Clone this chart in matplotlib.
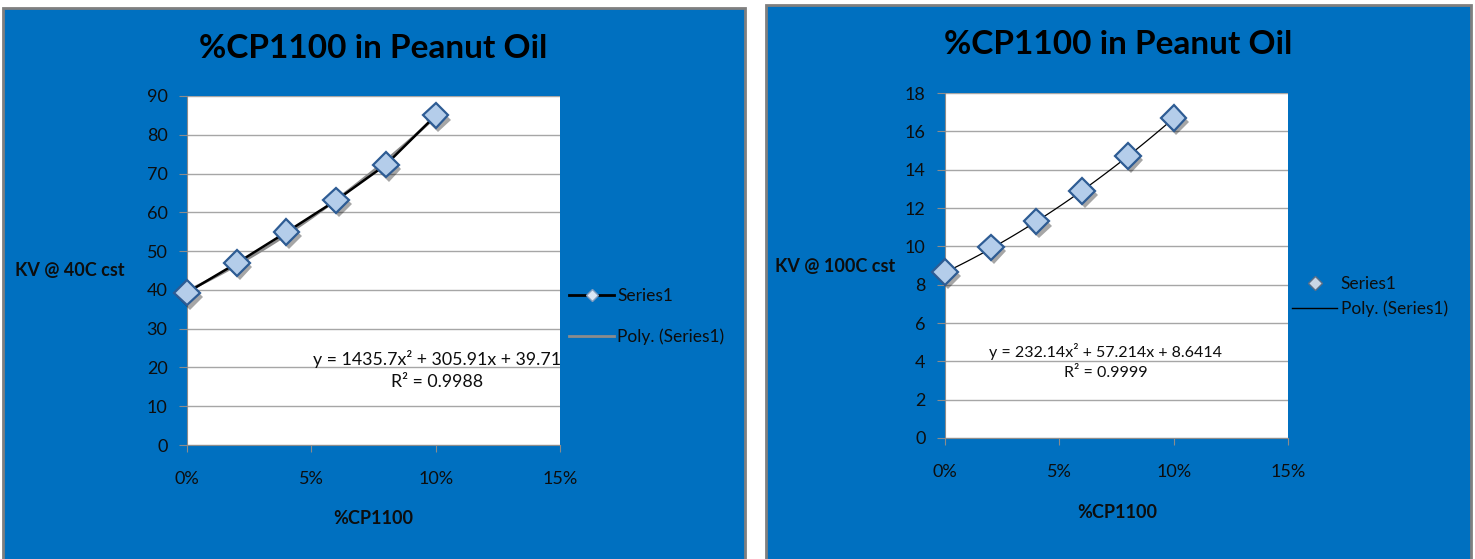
import matplotlib.pyplot as plt
import matplotlib.patheffects as pe
from matplotlib.patches import Rectangle
from matplotlib.ticker import PercentFormatter
import numpy as np

plt.rcParams['font.family'] = ['Lato', 'DejaVu Sans']

conc = [0, 0.02, 0.04, 0.06, 0.08, 0.10]
kv40 = [39.3, 46.9, 54.9, 63.1, 72.3, 85.0]
kv100 = [8.65, 9.95, 11.3, 12.9, 14.7, 16.7]

# trendline coefficients (a, b, c) for y = a*x^2 + b*x + c
poly40 = [1435.7, 305.91, 39.71]
poly100 = [232.14, 57.214, 8.6414]
r2_40 = '0.9988'
r2_100 = '0.9999'

title = '%CP1100 in Peanut Oil'
xlab = '%CP1100'
ylab40 = 'KV @ 40C cst'
ylab100 = 'KV @ 100C cst'

BLUE = '#0070c0'
TXT = '#0d0d0d'
GRID = '#a6a6a6'

fig = plt.figure(figsize=(14.75, 5.59), dpi=100)
fig.patch.set_facecolor('white')

# blue chart panels, kept behind the axes
fig.patches.append(Rectangle((3/1475, -0.01), 742/1475, 1.01 - 8/559, transform=fig.transFigure,
                             facecolor=BLUE, edgecolor='#7f7f7f', lw=2, zorder=-5))
fig.patches.append(Rectangle((766/1475, -0.01), 705/1475, 1.01 - 5/559, transform=fig.transFigure,
                             facecolor=BLUE, edgecolor='#7f7f7f', lw=2, zorder=-5))

marker_kw = dict(marker='D', markersize=13, markerfacecolor='#b4cdea',
                 markeredgecolor='#2e5c94', markeredgewidth=1.6)
shadow = [pe.SimplePatchShadow(offset=(2, -3), shadow_rgbFace='k', alpha=0.35), pe.Normal()]


def panel(rect, y, coef, ymax, ystep, with_line, trend_color, trend_lw):
    ax = fig.add_axes(rect)
    ax.set_facecolor('white')
    xs = np.linspace(0, 0.10, 100)
    ax.plot(xs, np.polyval(coef, xs), color=trend_color, lw=trend_lw, zorder=3)
    if with_line:
        ax.plot(conc, y, color='black', lw=1.8, zorder=3)
    ax.plot(conc, y, linestyle='none', zorder=4, path_effects=shadow, clip_on=False, **marker_kw)
    ax.set_xlim(0, 0.15)
    ax.set_ylim(0, ymax)
    ax.set_xticks([0, 0.05, 0.10, 0.15])
    ax.xaxis.set_major_formatter(PercentFormatter(1.0, decimals=0))
    ax.set_yticks(np.arange(0, ymax + ystep / 2, ystep))
    ax.grid(axis='y', color=GRID, lw=1)
    ax.set_axisbelow(True)
    for s in ['top', 'right']:
        ax.spines[s].set_visible(False)
    for s in ['left', 'bottom']:
        ax.spines[s].set_color('#8c8c8c')
    ax.tick_params(axis='x', direction='out', length=5, color='#8c8c8c', pad=14,
                   labelsize=13, labelcolor=TXT)
    ax.tick_params(axis='y', direction='out', length=6, color='#8c8c8c', pad=8,
                   labelsize=13, labelcolor=TXT)
    eq = 'y = %gx² + %gx + %g' % tuple(coef)
    return ax, eq


# left chart: KV @ 40C
ax1, eq1 = panel([187/1475, 1 - 445/559, 373/1475, 349/559], kv40, poly40,
                 90, 10, True, '#8c8c8c', 2.0)
ax1.text(0.67, 0.215, eq1 + '\nR² = ' + r2_40, transform=ax1.transAxes, ha='center',
         va='center', fontsize=12.8, color=TXT, linespacing=1.45)
h1 = [plt.Line2D([], [], color='black', lw=2, marker='D', markersize=6,
                 markerfacecolor='#dbe6f4', markeredgecolor='#7f9cc0'),
      plt.Line2D([], [], color='#8c8c8c', lw=2)]
ax1.legend(h1, ['Series1', 'Poly. (Series1)'], loc='center left', bbox_to_anchor=(1.025, 0.367),
           frameon=False, fontsize=12.5, labelcolor=TXT, handlelength=2.6, handletextpad=0.15,
           labelspacing=1.4, borderpad=0, borderaxespad=0)
fig.text(373/1475, 1 - 48/559, title, ha='center', va='center', fontsize=24,
         fontweight='bold', color='black')
fig.text(15/1475, 1 - 270/559, ylab40, ha='left', va='center', fontsize=13,
         fontweight='bold', color=TXT)
fig.text(373/1475, 1 - 518/559, xlab, ha='center', va='center', fontsize=13,
         fontweight='bold', color=TXT)

# right chart: KV @ 100C
ax2, eq2 = panel([945/1475, 1 - 438/559, 343/1475, 345/559], kv100, poly100,
                 18, 2, False, 'black', 0.9)
ax2.text(0.469, 0.223, eq2 + '\nR² = ' + r2_100, transform=ax2.transAxes, ha='center',
         va='center', fontsize=11.5, color=TXT, linespacing=1.55)
h2 = [plt.Line2D([], [], linestyle='none', marker='D', markersize=7,
                 markerfacecolor='#c9d6e6', markeredgecolor='#5b6f88'),
      plt.Line2D([], [], color='black', lw=1)]
ax2.legend(h2, ['Series1', 'Poly. (Series1)'], loc='center left', bbox_to_anchor=(1.012, 0.41),
           frameon=False, fontsize=12.5, labelcolor=TXT, handlelength=2.6, handletextpad=0.2,
           labelspacing=0.5, borderpad=0, borderaxespad=0)
fig.text(1118/1475, 1 - 45/559, title, ha='center', va='center', fontsize=24,
         fontweight='bold', color='black')
fig.text(775/1475, 1 - 266/559, ylab100, ha='left', va='center', fontsize=13,
         fontweight='bold', color=TXT)
fig.text(1117/1475, 1 - 513/559, xlab, ha='center', va='center', fontsize=13,
         fontweight='bold', color=TXT)

plt.savefig('out.png', dpi=100, facecolor=fig.get_facecolor())
